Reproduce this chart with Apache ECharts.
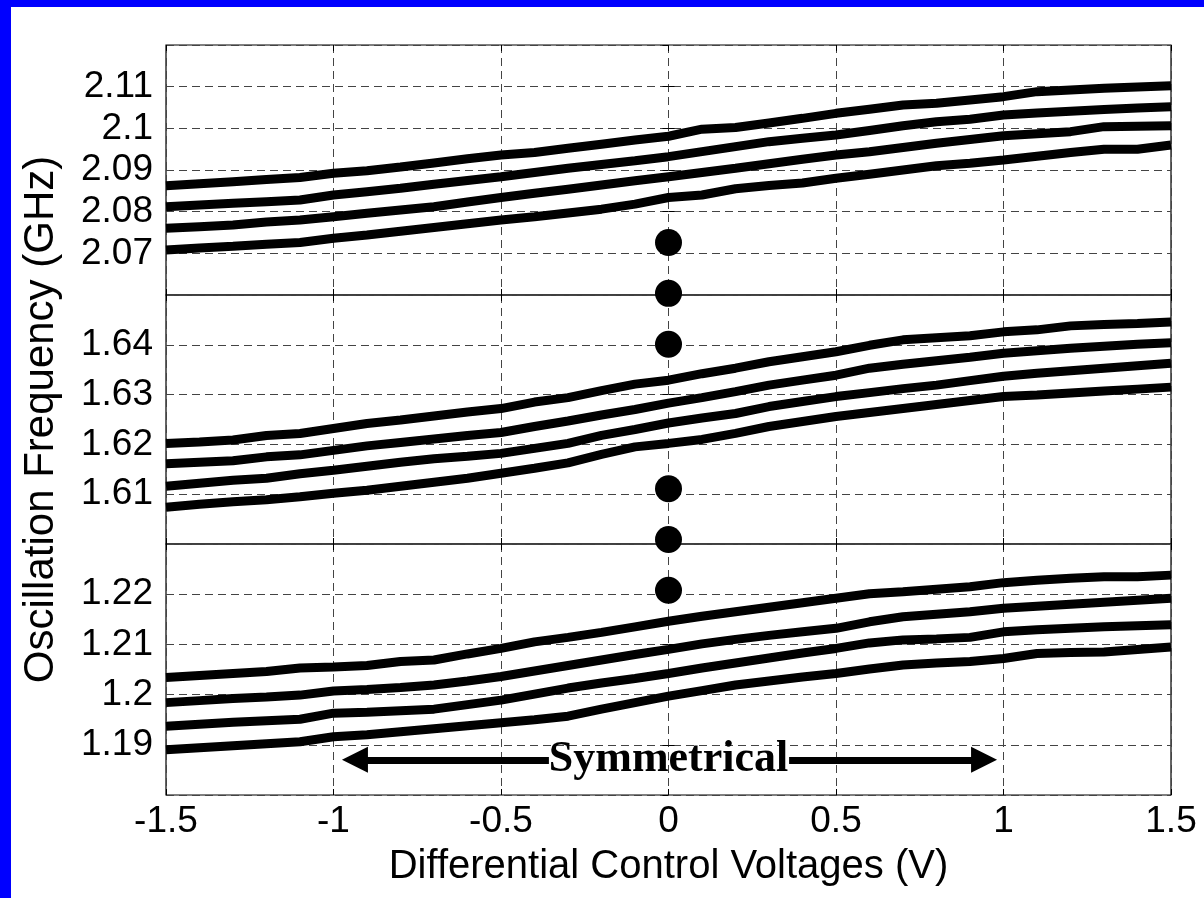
<!DOCTYPE html>
<html>
<head>
<meta charset="utf-8">
<script src="https://cdn.jsdelivr.net/npm/echarts@6/dist/echarts.min.js"></script>
<style>
  body { margin: 0; background: #0000ff; }
  #main { position: absolute; left: 11px; top: 7px; width: 1193px; height: 891px; background: #fff; }
</style>
</head>
<body>
<div id="main"></div>
<script>
// control voltage sweep (V)
var volts = [-1.5, -1.4, -1.3, -1.2, -1.1, -1.0, -0.9, -0.8, -0.7, -0.6,
             -0.5, -0.4, -0.3, -0.2, -0.1, 0, 0.1, 0.2, 0.3, 0.4, 0.5,
             0.6, 0.7, 0.8, 0.9, 1.0, 1.1, 1.2, 1.3, 1.4, 1.5];

// top band (GHz)
var top1 = [2.0862, 2.0867, 2.0872, 2.0877, 2.0882, 2.0892, 2.0898, 2.0907, 2.0917, 2.0927,
            2.0936, 2.0942, 2.0952, 2.0962, 2.0972, 2.0981, 2.0998, 2.1002, 2.1013, 2.1024, 2.1036,
            2.1046, 2.1056, 2.1060, 2.1068, 2.1076, 2.1088, 2.1092, 2.1096, 2.1099, 2.1102];
var top2 = [2.0812, 2.0816, 2.0820, 2.0824, 2.0828, 2.0840, 2.0848, 2.0856, 2.0866, 2.0875,
            2.0884, 2.0894, 2.0904, 2.0913, 2.0922, 2.0932, 2.0944, 2.0956, 2.0968, 2.0976, 2.0984,
            2.0995, 2.1006, 2.1016, 2.1022, 2.1032, 2.1037, 2.1041, 2.1045, 2.1049, 2.1052];
var top3 = [2.0760, 2.0764, 2.0768, 2.0775, 2.0780, 2.0788, 2.0796, 2.0804, 2.0812, 2.0823,
            2.0834, 2.0844, 2.0854, 2.0864, 2.0874, 2.0884, 2.0894, 2.0904, 2.0915, 2.0926, 2.0936,
            2.0944, 2.0954, 2.0964, 2.0973, 2.0982, 2.0987, 2.0992, 2.1004, 2.1005, 2.1006];
var top4 = [2.0708, 2.0713, 2.0717, 2.0722, 2.0726, 2.0736, 2.0744, 2.0753, 2.0762, 2.0771,
            2.0780, 2.0788, 2.0797, 2.0806, 2.0818, 2.0834, 2.0840, 2.0855, 2.0863, 2.0869, 2.0880,
            2.0890, 2.0900, 2.0910, 2.0916, 2.0924, 2.0933, 2.0942, 2.0950, 2.0950, 2.0960];

// middle band (GHz)
var mid1 = [1.6202, 1.6205, 1.6209, 1.6218, 1.6222, 1.6232, 1.6242, 1.6249, 1.6257, 1.6265,
            1.6272, 1.6285, 1.6294, 1.6308, 1.6321, 1.6329, 1.6342, 1.6353, 1.6366, 1.6376, 1.6386,
            1.6399, 1.6410, 1.6414, 1.6418, 1.6426, 1.6430, 1.6438, 1.6441, 1.6443, 1.6446];
var mid2 = [1.6161, 1.6164, 1.6167, 1.6175, 1.6179, 1.6188, 1.6197, 1.6204, 1.6211, 1.6218,
            1.6224, 1.6236, 1.6247, 1.6259, 1.6270, 1.6283, 1.6294, 1.6306, 1.6319, 1.6329, 1.6339,
            1.6353, 1.6361, 1.6368, 1.6375, 1.6383, 1.6388, 1.6393, 1.6397, 1.6401, 1.6404];
var mid3 = [1.6116, 1.6122, 1.6128, 1.6132, 1.6141, 1.6148, 1.6156, 1.6164, 1.6171, 1.6176,
            1.6182, 1.6192, 1.6202, 1.6218, 1.6230, 1.6243, 1.6253, 1.6262, 1.6276, 1.6286, 1.6296,
            1.6304, 1.6312, 1.6319, 1.6328, 1.6337, 1.6343, 1.6348, 1.6353, 1.6358, 1.6363];
var mid4 = [1.6074, 1.6080, 1.6085, 1.6089, 1.6095, 1.6102, 1.6108, 1.6116, 1.6124, 1.6132,
            1.6142, 1.6152, 1.6163, 1.6180, 1.6195, 1.6202, 1.6210, 1.6222, 1.6236, 1.6246, 1.6256,
            1.6264, 1.6272, 1.6280, 1.6288, 1.6296, 1.6299, 1.6303, 1.6307, 1.6311, 1.6315];

// bottom band (GHz)
var low1 = [1.2034, 1.2038, 1.2042, 1.2046, 1.2053, 1.2055, 1.2058, 1.2066, 1.2069, 1.2081,
            1.2092, 1.2105, 1.2114, 1.2124, 1.2135, 1.2146, 1.2156, 1.2165, 1.2174, 1.2183, 1.2192,
            1.2201, 1.2205, 1.2210, 1.2215, 1.2223, 1.2228, 1.2232, 1.2235, 1.2235, 1.2238];
var low2 = [1.1984, 1.1988, 1.1992, 1.1995, 1.1999, 1.2007, 1.2010, 1.2014, 1.2019, 1.2027,
            1.2036, 1.2047, 1.2058, 1.2069, 1.2080, 1.2090, 1.2101, 1.2110, 1.2118, 1.2125, 1.2132,
            1.2145, 1.2155, 1.2160, 1.2165, 1.2172, 1.2176, 1.2180, 1.2184, 1.2188, 1.2192];
var low3 = [1.1937, 1.1941, 1.1945, 1.1948, 1.1951, 1.1963, 1.1965, 1.1968, 1.1971, 1.1980,
            1.1989, 1.2001, 1.2013, 1.2023, 1.2032, 1.2042, 1.2053, 1.2063, 1.2073, 1.2083, 1.2092,
            1.2103, 1.2109, 1.2111, 1.2114, 1.2125, 1.2129, 1.2132, 1.2135, 1.2137, 1.2139];
var low4 = [1.1890, 1.1894, 1.1898, 1.1902, 1.1906, 1.1916, 1.1920, 1.1926, 1.1932, 1.1938,
            1.1944, 1.1950, 1.1957, 1.1971, 1.1984, 1.1997, 1.2008, 1.2019, 1.2027, 1.2035, 1.2042,
            1.2051, 1.2059, 1.2063, 1.2066, 1.2072, 1.2082, 1.2084, 1.2085, 1.2090, 1.2095];

// the "..." dots between bands
var dotsTop = [[0, 2.0726], [0, 2.0604]];
var dotsMid = [[0, 1.6401], [0, 1.6111], [0, 1.6009]];
var dotsLow = [[0, 1.2208]];

// axis ranges per band
var yMin = [2.06, 1.60, 1.18];
var yMax = [2.12, 1.65, 1.23];

// arrow annotation
var arrowY = 1.187;
var arrowLeft = [-0.357, -0.936];
var arrowRight = [0.36, 0.942];

var sans = "'Liberation Sans', Arial, sans-serif";
var gridTops = [38, 288, 537];
var gridHeights = [250, 249, 251];

function pairs(ys) {
  return volts.map(function (v, i) { return [v, ys[i]]; });
}

var grids = [], xAxes = [], yAxes = [];
var dashed = { show: true, lineStyle: { color: '#444', width: 1, type: [8, 5] } };
var tick = { show: true, inside: true, length: 6, lineStyle: { color: '#000', width: 1 } };

for (var g = 0; g < 3; g++) {
  grids.push({ left: 155, right: 33, top: gridTops[g], height: gridHeights[g],
               show: true, borderColor: '#000', borderWidth: 1.2 });
}
for (g = 0; g < 3; g++) {
  xAxes.push({
    gridIndex: g, type: 'value', min: -1.5, max: 1.5, interval: 0.5,
    axisLine: { show: false }, axisTick: tick, splitLine: dashed,
    axisLabel: { show: g === 2, color: '#000', fontFamily: sans, fontSize: 37, margin: 8 },
    name: g === 2 ? 'Differential Control Voltages (V)' : '',
    nameLocation: 'middle', nameGap: 52,
    nameTextStyle: { color: '#000', fontFamily: sans, fontSize: 40 }
  });
}
for (g = 0; g < 3; g++) {
  xAxes.push({
    gridIndex: g, type: 'value', position: 'top', min: -1.5, max: 1.5, interval: 0.5,
    axisLine: { show: false }, axisTick: tick, splitLine: { show: false }, axisLabel: { show: false }
  });
}
for (g = 0; g < 3; g++) {
  yAxes.push({
    gridIndex: g, type: 'value', min: yMin[g], max: yMax[g], interval: 0.01,
    axisLine: { show: false }, axisTick: tick, splitLine: dashed,
    axisLabel: {
      color: '#000', fontFamily: sans, fontSize: 37, margin: 13,
      showMinLabel: false, showMaxLabel: false,
      formatter: function (v) { return String(+v.toFixed(2)); }
    },
    name: g === 1 ? 'Oscillation Frequency (GHz)' : '',
    nameLocation: 'middle', nameRotate: 90, nameGap: 104,
    nameTextStyle: { color: '#000', fontFamily: sans, fontSize: 42 }
  });
}
for (g = 0; g < 3; g++) {
  yAxes.push({
    gridIndex: g, type: 'value', position: 'right', min: yMin[g], max: yMax[g], interval: 0.01,
    axisLine: { show: false }, axisTick: tick, splitLine: { show: false }, axisLabel: { show: false }
  });
}

var series = [];
var bands = [[top1, top2, top3, top4], [mid1, mid2, mid3, mid4], [low1, low2, low3, low4]];
bands.forEach(function (lines, g) {
  lines.forEach(function (ys) {
    series.push({
      type: 'line', xAxisIndex: g, yAxisIndex: g, data: pairs(ys),
      symbol: 'none', lineStyle: { color: '#000', width: 9 }, z: 3
    });
  });
});
[dotsTop, dotsMid, dotsLow].forEach(function (d, g) {
  series.push({
    type: 'scatter', xAxisIndex: g, yAxisIndex: g, data: d, clip: false,
    symbolSize: 27, itemStyle: { color: '#000', opacity: 1 }, z: 4
  });
});

// "Symmetrical" label with arrows
series.push({
  type: 'scatter', xAxisIndex: 2, yAxisIndex: 2, data: [[0, arrowY]],
  symbolSize: 1, itemStyle: { color: '#000', opacity: 1 }, z: 5,
  label: {
    show: true, position: 'inside', formatter: 'Symmetrical', color: '#000',
    textBorderWidth: 0, opacity: 1,
    fontFamily: "'Liberation Serif', 'Times New Roman', serif", fontWeight: 'bold', fontSize: 44
  },
  markLine: {
    silent: true, animation: false, symbol: ['none', 'triangle'], symbolSize: 26,
    label: { show: false },
    lineStyle: { color: '#000', width: 7, type: 'solid', opacity: 1 },
    data: [
      [{ coord: [arrowLeft[0], arrowY] }, { coord: [arrowLeft[1], arrowY] }],
      [{ coord: [arrowRight[0], arrowY] }, { coord: [arrowRight[1], arrowY] }]
    ]
  }
});

var myChart = echarts.init(document.getElementById('main'));
myChart.setOption({
  animation: false,
  backgroundColor: '#fff',
  grid: grids,
  xAxis: xAxes,
  yAxis: yAxes,
  series: series
});
</script>
</body>
</html>
